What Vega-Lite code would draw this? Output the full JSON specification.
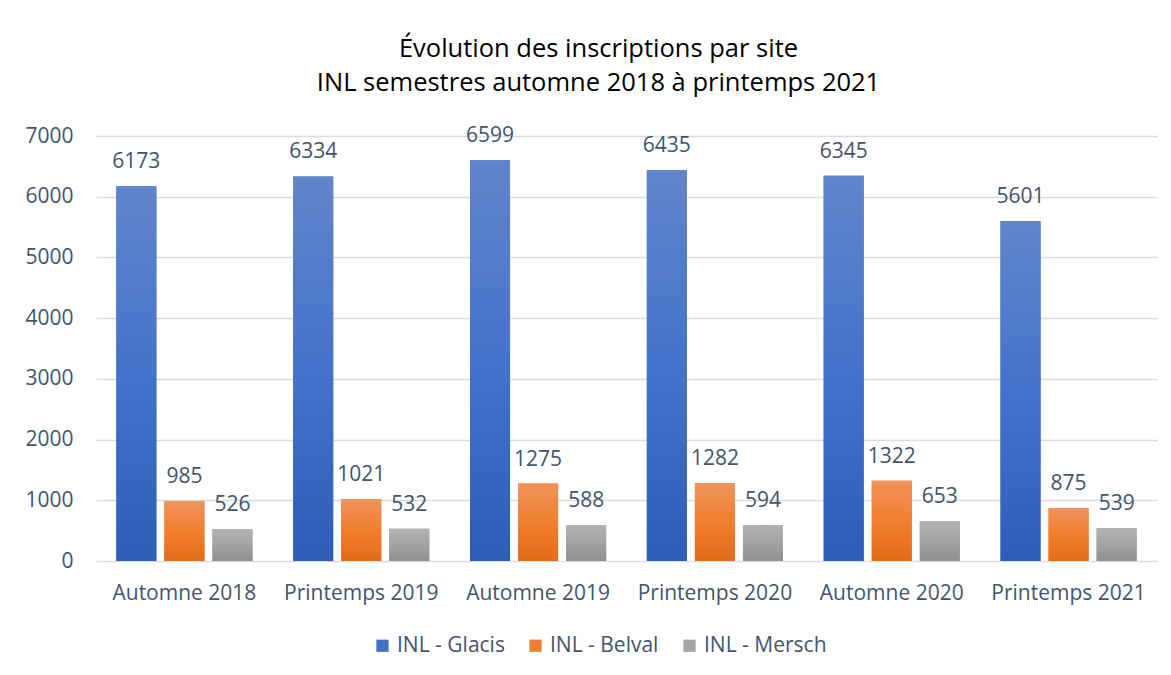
{
  "$schema": "https://vega.github.io/schema/vega-lite/v6.json",
  "width": 1061,
  "height": 425,
  "autosize": {"type": "none"},
  "padding": {"left": 96, "top": 136, "right": 14, "bottom": 114},
  "background": "white",
  "config": {
    "font": "Open Sans",
    "view": {"stroke": null},
    "axis": {"labelFont": "Open Sans", "labelColor": "#44546a", "labelFontSize": 21}
  },
  "title": {
    "text": ["Évolution des inscriptions par site", "INL semestres automne 2018 à printemps 2021"],
    "fontSize": 25.5,
    "fontWeight": "normal",
    "color": "#000000",
    "lineHeight": 34,
    "anchor": "middle",
    "frame": "group",
    "dx": -28,
    "offset": 29
  },
  "data": {
    "values": [
      {"semestre": "Automne 2018", "site": "INL - Glacis", "inscriptions": 6173},
      {"semestre": "Automne 2018", "site": "INL - Belval", "inscriptions": 985},
      {"semestre": "Automne 2018", "site": "INL - Mersch", "inscriptions": 526},
      {"semestre": "Printemps 2019", "site": "INL - Glacis", "inscriptions": 6334},
      {"semestre": "Printemps 2019", "site": "INL - Belval", "inscriptions": 1021},
      {"semestre": "Printemps 2019", "site": "INL - Mersch", "inscriptions": 532},
      {"semestre": "Automne 2019", "site": "INL - Glacis", "inscriptions": 6599},
      {"semestre": "Automne 2019", "site": "INL - Belval", "inscriptions": 1275},
      {"semestre": "Automne 2019", "site": "INL - Mersch", "inscriptions": 588},
      {"semestre": "Printemps 2020", "site": "INL - Glacis", "inscriptions": 6435},
      {"semestre": "Printemps 2020", "site": "INL - Belval", "inscriptions": 1282},
      {"semestre": "Printemps 2020", "site": "INL - Mersch", "inscriptions": 594},
      {"semestre": "Automne 2020", "site": "INL - Glacis", "inscriptions": 6345},
      {"semestre": "Automne 2020", "site": "INL - Belval", "inscriptions": 1322},
      {"semestre": "Automne 2020", "site": "INL - Mersch", "inscriptions": 653},
      {"semestre": "Printemps 2021", "site": "INL - Glacis", "inscriptions": 5601},
      {"semestre": "Printemps 2021", "site": "INL - Belval", "inscriptions": 875},
      {"semestre": "Printemps 2021", "site": "INL - Mersch", "inscriptions": 539}
    ]
  },
  "encoding": {
    "x": {
      "field": "semestre",
      "type": "nominal",
      "sort": null,
      "title": null,
      "scale": {"paddingInner": 0.23, "paddingOuter": 0.115},
      "axis": {"labelAngle": 0, "domain": false, "ticks": false, "tickSize": 0, "labelPadding": 21}
    },
    "xOffset": {
      "field": "site",
      "type": "nominal",
      "sort": ["INL - Glacis", "INL - Belval", "INL - Mersch"],
      "scale": {"domain": ["INL - Glacis", "INL - Belval", "INL - Mersch"], "paddingInner": 0.1667, "paddingOuter": 0}
    },
    "y": {
      "field": "inscriptions",
      "type": "quantitative",
      "title": null,
      "scale": {"domain": [0, 7000], "nice": false},
      "axis": {
        "values": [0, 1000, 2000, 3000, 4000, 5000, 6000, 7000],
        "format": "d",
        "domain": false,
        "ticks": false,
        "tickSize": 0,
        "labelPadding": 23,
        "gridColor": "#d9dde3",
        "gridWidth": 1.3
      }
    }
  },
  "layer": [
    {
      "mark": {"type": "bar"},
      "encoding": {
        "color": {
          "field": "site",
          "type": "nominal",
          "sort": ["INL - Glacis", "INL - Belval", "INL - Mersch"],
          "scale": {
            "domain": ["INL - Glacis", "INL - Belval", "INL - Mersch"],
            "range": ["#4472c4", "#ed7d31", "#a5a5a5"]
          },
          "legend": {
            "title": null,
            "orient": "none",
            "legendX": 276,
            "legendY": 499,
            "direction": "horizontal",
            "symbolType": "square",
            "symbolSize": 150,
            "symbolStrokeWidth": 0,
            "labelFontSize": 21,
            "labelColor": "#44546a",
            "labelFont": "Open Sans",
            "labelOffset": 4,
            "columnPadding": 20
          }
        }
      }
    },
    {
      "transform": [{"filter": "datum.site === 'INL - Glacis'"}],
      "mark": {"type": "bar", "color": {"gradient": "linear", "x1": 0, "y1": 0, "x2": 0, "y2": 1, "stops": [{"offset": 0, "color": "#6284cb"}, {"offset": 0.5, "color": "#4473cb"}, {"offset": 1, "color": "#2d5db7"}]}}
    },
    {
      "transform": [{"filter": "datum.site === 'INL - Belval'"}],
      "mark": {"type": "bar", "color": {"gradient": "linear", "x1": 0, "y1": 0, "x2": 0, "y2": 1, "stops": [{"offset": 0, "color": "#f0935e"}, {"offset": 0.5, "color": "#f17f2e"}, {"offset": 1, "color": "#e26b17"}]}}
    },
    {
      "transform": [{"filter": "datum.site === 'INL - Mersch'"}],
      "mark": {"type": "bar", "color": {"gradient": "linear", "x1": 0, "y1": 0, "x2": 0, "y2": 1, "stops": [{"offset": 0, "color": "#b2b2b2"}, {"offset": 0.5, "color": "#a3a3a3"}, {"offset": 1, "color": "#8f8f8f"}]}}
    },
    {
      "mark": {"type": "text", "baseline": "alphabetic", "dy": -18, "fontSize": 21, "color": "#44546a", "font": "Open Sans"},
      "encoding": {
        "text": {"field": "inscriptions", "type": "quantitative", "format": "d"}
      }
    }
  ]
}
